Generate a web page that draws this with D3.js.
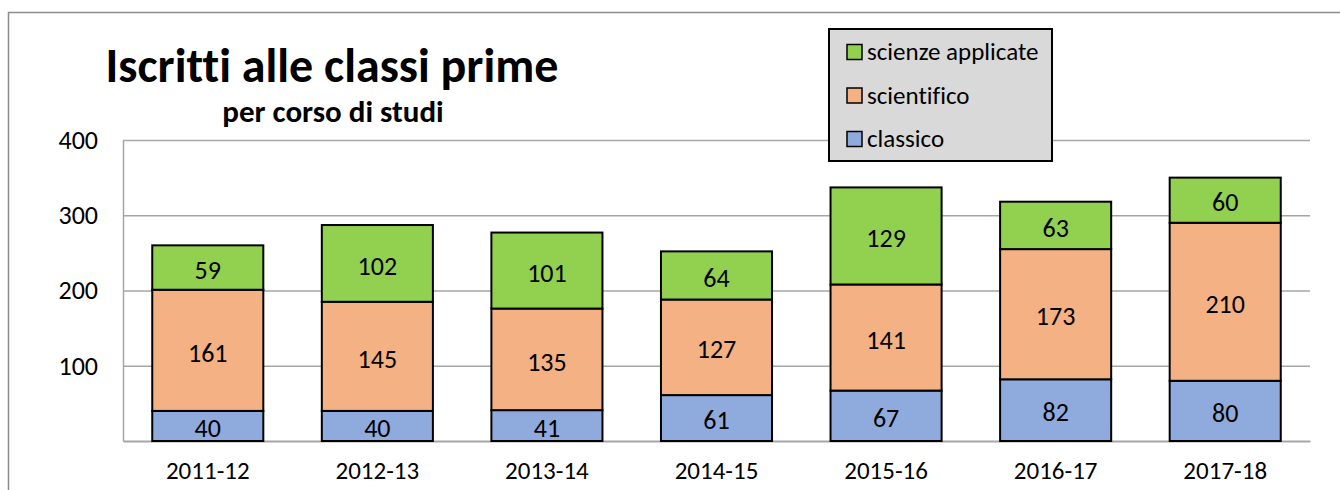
<!DOCTYPE html>
<html><head><meta charset="utf-8">
<script src="https://cdn.jsdelivr.net/npm/d3@7/dist/d3.min.js"></script>
<style>body{margin:0;background:#fff;}svg{display:block;font-family:Carlito,Calibri,"Open Sans",sans-serif;font-variant-ligatures:none;}svg text{font-variant-ligatures:none;font-feature-settings:"liga" 0,"clig" 0;}</style>
</head><body><svg id="c" width="1340" height="490"></svg>
<script>
const categories = ["2011-12","2012-13","2013-14","2014-15","2015-16","2016-17","2017-18"];
const classico = [40,40,41,61,67,82,80];
const scientifico = [161,145,135,127,141,173,210];
const scienzeApplicate = [59,102,101,64,129,63,60];
const seriesNames = ["classico","scientifico","scienze applicate"];
const seriesColors = ["#8faadc","#f4b183","#92d050"];
const yTicks = [100,200,300,400];

const FONT = "Carlito,Calibri,'Open Sans',sans-serif";
const svg = d3.select("#c");
const W = 1340, H = 490;
const m = {left:123, right:1310, top:140, bottom:441};

// outer frame
svg.append("path").attr("d", `M8.5,${H} L8.5,12.5 L${W},12.5`).attr("fill","none").attr("stroke","#8c8c8c").attr("stroke-width",1.5);

const x = d3.scaleBand().domain(categories).range([m.left, m.right]).paddingInner(0.345).paddingOuter(0.1725);
const y = d3.scaleLinear().domain([0,400]).range([m.bottom, m.top]);

// gridlines
svg.append("g").selectAll("line").data(yTicks).join("line")
  .attr("x1", m.left).attr("x2", m.right).attr("y1", d=>y(d)+0.5).attr("y2", d=>y(d)+0.5)
  .attr("stroke","#a6a6a6").attr("stroke-width",1.3);

// y axis
const yAxis = svg.append("g").attr("transform",`translate(${m.left},0)`)
  .call(d3.axisLeft(y).tickValues([0,...yTicks]).tickSize(0).tickPadding(25).tickFormat(d=> d===0 ? "" : d));
yAxis.select(".domain").attr("stroke","#a6a6a6").attr("stroke-width",1.5);
yAxis.selectAll("text").attr("font-size",26).attr("fill","#000").attr("font-family",FONT);

// x axis
const xAxis = svg.append("g").attr("transform",`translate(0,${m.bottom})`)
  .call(d3.axisBottom(x).tickSize(0).tickPadding(20));
xAxis.select(".domain").attr("stroke","#a6a6a6").attr("stroke-width",2);
xAxis.selectAll("text").attr("font-size",25).attr("fill","#000").attr("font-family",FONT);

// stack
const rows = categories.map((c,i)=>({cat:c, "classico":classico[i], "scientifico":scientifico[i], "scienze applicate":scienzeApplicate[i]}));
const stack = d3.stack().keys(seriesNames)(rows);

const gs = svg.append("g").selectAll("g").data(stack).join("g").attr("fill",(d,i)=>seriesColors[i]);
gs.selectAll("rect").data(d=>d).join("rect")
  .attr("x", d=>x(d.data.cat)).attr("width", x.bandwidth())
  .attr("y", d=>y(d[1])).attr("height", d=>y(d[0])-y(d[1]))
  .attr("stroke","#000").attr("stroke-width",2);
gs.selectAll("text").data(d=>d.map(v=>({v, key:d.key}))).join("text")
  .attr("x", d=>x(d.v.data.cat)+x.bandwidth()/2)
  .attr("y", d=>(y(d.v[0])+y(d.v[1]))/2)
  .attr("dy","0.43em").attr("text-anchor","middle")
  .attr("font-size",26).attr("fill","#000")
  .text(d=>d.v.data[d.key]);

// title
svg.append("text").attr("x",332).attr("y",82).attr("text-anchor","middle")
  .attr("font-size",48).attr("font-weight","bold").text("Iscritti alle classi prime");
svg.append("text").attr("x",333).attr("y",122).attr("text-anchor","middle")
  .attr("font-size",31).attr("font-weight","bold").text("per corso di studi");

// legend
const lg = svg.append("g");
lg.append("rect").attr("x",829).attr("y",29).attr("width",223).attr("height",132)
  .attr("fill","#d9d9d9").attr("stroke","#000").attr("stroke-width",2);
const legendOrder = [2,1,0];
legendOrder.forEach((si,k)=>{
  const cy = 52 + k*43.5;
  lg.append("rect").attr("x",847).attr("y",cy-7.5).attr("width",15).attr("height",15)
    .attr("fill",seriesColors[si]).attr("stroke","#000").attr("stroke-width",1.5);
  lg.append("text").attr("x",867).attr("y",cy).attr("dy","0.32em").attr("font-size",25).text(seriesNames[si]);
});
</script></body></html>
